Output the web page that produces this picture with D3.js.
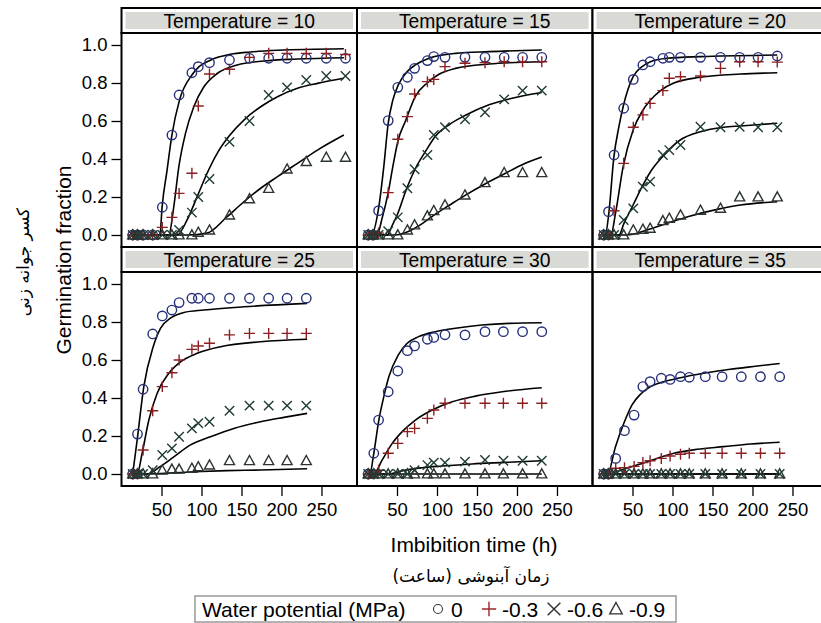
<!DOCTYPE html>
<html><head><meta charset="utf-8">
<script src="https://cdn.jsdelivr.net/npm/d3@7"></script>
<style>body{margin:0;background:#fff}svg{display:block}</style>
</head><body>
<svg id="c" width="821" height="623"></svg>
<script>
const temperatures = [10, 15, 20, 25, 30, 35];
const potentials = ["0", "-0.3", "-0.6", "-0.9"];
const xTicks = [50, 100, 150, 200, 250];
const yTicks = [0, 0.2, 0.4, 0.6, 0.8, 1.0];

const times = [
  [14,20,27,39,51,63,72,88,96,110,135,160,184,207,231,256,280],
  [14,20,27,39,51,63,72,88,96,110,135,160,184,207,231],
  [14,20,27,39,51,63,72,88,96,110,135,160,184,207,231],
  [14,20,27,39,51,63,72,88,96,110,135,160,184,207,231],
  [14,21,27,39,51,63,72,88,96,110,135,160,183,207,231],
  [14,20,29,40,52,63,72,86,97,110,121,141,162,186,210,234]
];
const obs0 = [
  [0,0,0,0,0.146,0.526,0.737,0.854,0.886,0.907,0.921,0.93,0.93,0.93,0.93,0.93,0.93],
  [0,0,0.128,0.602,0.777,0.83,0.877,0.918,0.939,0.935,0.935,0.935,0.935,0.935,0.935],
  [0,0.123,0.421,0.667,0.819,0.895,0.912,0.93,0.935,0.935,0.935,0.935,0.935,0.935,0.942],
  [0,0.21,0.446,0.737,0.832,0.863,0.902,0.925,0.925,0.925,0.925,0.925,0.925,0.925,0.925],
  [0,0.109,0.284,0.433,0.542,0.649,0.674,0.709,0.719,0.733,0.732,0.749,0.749,0.749,0.749],
  [0,0,0.082,0.228,0.31,0.46,0.486,0.504,0.498,0.512,0.509,0.512,0.512,0.512,0.512,0.512]
];
const obs03 = [
  [0,0,0,0,0.04,0.093,0.219,0.325,0.679,0.847,0.872,0.935,0.956,0.956,0.956,0.956,0.95],
  [0,0,0.01,0.223,0.504,0.623,0.742,0.807,0.819,0.886,0.904,0.907,0.912,0.912,0.912],
  [0,0,0.128,0.377,0.567,0.632,0.693,0.76,0.825,0.833,0.837,0.877,0.912,0.912,0.91],
  [0,0,0.126,0.333,0.46,0.533,0.6,0.656,0.674,0.688,0.732,0.74,0.74,0.74,0.74],
  [0,0,0.02,0.109,0.161,0.223,0.24,0.293,0.337,0.372,0.372,0.372,0.372,0.372,0.372],
  [0,0,0.03,0.033,0.04,0.06,0.07,0.082,0.095,0.104,0.109,0.109,0.109,0.109,0.109,0.109]
];
const obs06 = [
  [0,0,0,0,0,0,0.026,0.118,0.2,0.295,0.49,0.6,0.737,0.777,0.816,0.837,0.837],
  [0,0,0,0.02,0.093,0.246,0.346,0.421,0.526,0.567,0.609,0.646,0.714,0.76,0.76],
  [0,0,0,0.079,0.14,0.254,0.281,0.421,0.447,0.474,0.57,0.567,0.57,0.567,0.567],
  [0,0,0,0.02,0.1,0.135,0.196,0.24,0.267,0.275,0.333,0.36,0.36,0.36,0.36],
  [0,0,0,0,0,0,0.02,0.047,0.06,0.06,0.065,0.074,0.07,0.07,0.07],
  [0,0,0,0,0,0,0,0,0,0,0,0,0,0,0,0]
];
const obs09 = [
  [0,0,0,0,0,0,0,0,0.014,0.026,0.105,0.19,0.245,0.347,0.386,0.409,0.409],
  [0,0,0,0,0,0.026,0.053,0.1,0.128,0.158,0.21,0.275,0.328,0.328,0.328],
  [0,0,0,0,0.026,0.03,0.035,0.075,0.088,0.105,0.13,0.14,0.2,0.2,0.2],
  [0,0,0,0,0.02,0.025,0.025,0.03,0.038,0.047,0.07,0.07,0.07,0.07,0.07],
  [0,0,0,0,0,0,0,0,0,0,0,0,0,0,0],
  [0,0,0,0,0,0,0,0,0,0,0,0,0,0,0,0]
];

// fitted curves as [time, fraction]
const fit0 = [
  [[14,0],[48,0],[50.8,0.149],[57,0.342],[63,0.526],[72.5,0.71],[88,0.842],[97,0.886],[111,0.92],[136,0.951],[161,0.963],[195,0.972],[278,0.98]],
  [[14,0],[18,0],[27.3,0.149],[33.5,0.36],[39,0.588],[44.8,0.71],[51.5,0.789],[62.7,0.86],[73,0.895],[90,0.93],[123,0.956],[165,0.965],[231,0.974]],
  [[14,0],[16,0],[20.4,0.114],[26.7,0.41],[33,0.57],[38.3,0.675],[50.8,0.833],[62,0.886],[72.5,0.912],[93,0.93],[135,0.939],[231,0.947]],
  [[14,0],[19.6,0.18],[27.9,0.46],[39.6,0.67],[48.75,0.767],[61.25,0.82],[78,0.85],[103,0.863],[153,0.88],[232,0.898]],
  [[14,0],[16,0],[21,0.109],[27.3,0.284],[33.5,0.407],[39.8,0.512],[51.5,0.626],[62.7,0.688],[77,0.723],[98,0.749],[123,0.767],[156,0.784],[190,0.793],[231,0.796]],
  [[14,0],[18.75,0],[28.75,0.144],[39.2,0.267],[49.6,0.365],[60,0.42],[72.5,0.46],[89,0.486],[110,0.507],[139,0.53],[172,0.551],[206,0.568],[234,0.582]]
];
const fit03 = [
  [[14,0],[59,0],[65.4,0.15],[71.7,0.36],[80,0.535],[90.4,0.675],[103,0.78],[119.6,0.85],[144.6,0.895],[178,0.916],[219.6,0.926],[278,0.933]],
  [[14,0],[25,0],[31.5,0.09],[39,0.223],[44.8,0.36],[51.5,0.5],[60.6,0.6],[73,0.73],[87.7,0.8],[102,0.845],[123,0.877],[165,0.9],[231,0.912]],
  [[14,0],[23,0],[28.75,0.114],[38.3,0.36],[50.8,0.553],[62,0.65],[72.5,0.71],[85.8,0.763],[101.7,0.8],[135,0.83],[185,0.847],[231,0.854]],
  [[14,0],[19.6,0],[25.8,0.109],[34.2,0.284],[44.6,0.425],[59.2,0.53],[73.75,0.59],[94.6,0.635],[123.75,0.67],[173.75,0.696],[232,0.709]],
  [[14,0],[21,0],[31.5,0.074],[44,0.161],[56.5,0.223],[73,0.284],[94,0.337],[119,0.38],[148,0.41],[181.5,0.433],[231,0.454]],
  [[14,0],[18.75,0],[39.2,0.025],[60,0.053],[80.8,0.082],[101.7,0.109],[130.8,0.13],[164,0.144],[197.5,0.158],[234,0.167]]
];
const fit06 = [
  [[14,0],[69.6,0],[82,0.079],[94.6,0.202],[107,0.325],[119.6,0.43],[134,0.518],[153,0.605],[174,0.675],[195,0.728],[220,0.772],[245,0.798],[278,0.825]],
  [[14,0],[37.7,0],[44,0.05],[50.2,0.105],[60.6,0.228],[73,0.35],[85.6,0.44],[98,0.52],[115,0.58],[135.6,0.63],[165,0.685],[194,0.72],[231,0.75]],
  [[14,0],[33,0],[39.2,0.06],[50.8,0.158],[62,0.254],[72.5,0.333],[87,0.41],[109.6,0.5],[135,0.544],[164,0.567],[185,0.574],[231,0.588]],
  [[14,0],[32,0],[48.75,0.04],[65.4,0.09],[86.25,0.153],[111.25,0.196],[140.4,0.24],[173.75,0.275],[203,0.298],[232,0.319]],
  [[14,0],[39.8,0],[60.6,0.021],[81.5,0.033],[106.5,0.042],[144,0.053],[185.6,0.061],[231,0.07]],
  [[14,0],[234,0]]
];
const fit09 = [
  [[14,0],[82,0],[107,0.01],[132,0.096],[153,0.175],[174,0.246],[195,0.307],[220,0.377],[245,0.447],[278,0.526]],
  [[14,0],[47.5,0],[64.8,0.02],[81.5,0.06],[98,0.11],[114.8,0.155],[135.6,0.21],[160.6,0.27],[185.6,0.325],[206.5,0.37],[231,0.41]],
  [[14,0],[43,0],[68,0.026],[93,0.061],[122.5,0.1],[156,0.135],[185,0.158],[231,0.175]],
  [[14,0],[28,0],[90,0.012],[132,0.018],[174,0.021],[232,0.028]],
  [[14,0],[231,0]],
  [[14,0],[234,0]]
];

const obsAll = [obs0, obs03, obs06, obs09];
const fitAll = [fit0, fit03, fit06, fit09];
const colors = ["#25307a", "#8c1f22", "#1f3b35", "#2c3530"];
const symbolPaths = [
  "M4.7,0A4.7,4.7 0 1,1 -4.7,0A4.7,4.7 0 1,1 4.7,0Z",
  "M-5.5,0H5.5M0,-5.5V5.5",
  "M-4.7,-4.7L4.7,4.7M-4.7,4.7L4.7,-4.7",
  "M0,-5.2L5,3.9H-5Z"
];
const FONT = "'Liberation Sans', Arial, sans-serif";

const svg = d3.select("#c");
const W = 235.5, colX = [121.5, 357, 592.5], rowTop = [8, 247], stripH = 25, plotH = 214;

temperatures.forEach((temp, i) => {
  const col = i % 3, row = Math.floor(i / 3);
  const x0 = colX[col];
  const top = rowTop[row];
  const plotTop = top + stripH;
  const x = d3.scaleLinear().domain([0, 294.4]).range([x0, x0 + W]);
  const y = d3.scaleLinear().domain([0, 1]).range([plotTop + 202, plotTop + 12]);
  const g = svg.append("g");

  g.append("rect").attr("x", x0).attr("y", top).attr("width", W).attr("height", stripH)
    .attr("fill", "#fff").attr("stroke", "#000").attr("stroke-width", 2);
  g.append("rect").attr("x", x0 + 4).attr("y", top + 4).attr("width", W - 8).attr("height", stripH - 8)
    .attr("fill", "#d9dad5");
  g.append("text").attr("x", x0 + W / 2).attr("y", top + 19.5).attr("text-anchor", "middle")
    .attr("font-family", FONT).attr("font-size", 19.3).attr("fill", "#000")
    .text("Temperature = " + temp);

  g.append("rect").attr("x", x0).attr("y", plotTop).attr("width", W).attr("height", plotH)
    .attr("fill", "none").attr("stroke", "#000").attr("stroke-width", 2);

  const line = d3.line().x(d => x(d[0])).y(d => y(d[1])).curve(d3.curveMonotoneX);
  fitAll.forEach((fit) => {
    g.append("path").attr("d", line(fit[i])).attr("fill", "none")
      .attr("stroke", "#000").attr("stroke-width", 1.6);
  });
  obsAll.forEach((obs, s) => {
    const pts = times[i].map((t, k) => [t, obs[i][k]]);
    g.selectAll(null).data(pts).enter().append("path")
      .attr("transform", d => `translate(${x(d[0])},${y(d[1])})`)
      .attr("d", symbolPaths[s]).attr("fill", "none")
      .attr("stroke", colors[s]).attr("stroke-width", 1.4);
  });

  if (col === 0) {
    const ax = g.append("g").attr("transform", `translate(${x0},0)`)
      .call(d3.axisLeft(y).tickValues(yTicks).tickFormat(d3.format(".1f")).tickSize(10).tickPadding(4));
    ax.select(".domain").remove();
    ax.selectAll("line").attr("stroke", "#000").attr("stroke-width", 1.3);
    ax.selectAll("text").attr("font-family", FONT).attr("font-size", 18.5).attr("fill", "#000");
  }
  if (row === 1) {
    const ax = g.append("g").attr("transform", `translate(0,${plotTop + plotH})`)
      .call(d3.axisBottom(x).tickValues(xTicks).tickSize(10).tickPadding(7));
    ax.select(".domain").remove();
    ax.selectAll("line").attr("stroke", "#000").attr("stroke-width", 1.3);
    ax.selectAll("text").attr("font-family", FONT).attr("font-size", 18.5).attr("fill", "#000");
  }
});

svg.append("text").attr("x", 474).attr("y", 552).attr("text-anchor", "middle")
  .attr("font-family", FONT).attr("font-size", 21).text("Imbibition time (h)");
svg.append("text").attr("x", 471).attr("y", 582).attr("text-anchor", "middle")
  .attr("font-family", "'DejaVu Sans', sans-serif").attr("font-size", 17).attr("direction", "rtl")
  .text("زمان آبنوشی (ساعت)");
svg.append("text").attr("transform", "translate(71,260) rotate(-90)").attr("text-anchor", "middle")
  .attr("font-family", FONT).attr("font-size", 21).text("Germination fraction");
svg.append("text").attr("transform", "translate(29,262) rotate(-90)").attr("text-anchor", "middle")
  .attr("font-family", "'DejaVu Sans', sans-serif").attr("font-size", 17).attr("direction", "rtl")
  .text("کسر جوانه زنی");

const lg = svg.append("g");
lg.append("rect").attr("x", 195).attr("y", 596).attr("width", 481).attr("height", 26)
  .attr("fill", "#fff").attr("stroke", "#999").attr("stroke-width", 1.5);
lg.append("text").attr("x", 202).attr("y", 617).attr("font-family", FONT).attr("font-size", 21)
  .text("Water potential (MPa)");
const legX = [438, 489, 554, 616];
const legScale = [0.95, 1.3, 1.35, 1.25];
potentials.forEach((p, s) => {
  lg.append("path").attr("transform", `translate(${legX[s]},609) scale(${legScale[s]})`).attr("d", symbolPaths[s])
    .attr("fill", "none").attr("stroke", s === 1 ? "#9a2a2a" : "#333").attr("stroke-width", 1.1);
  lg.append("text").attr("x", legX[s] + 13).attr("y", 617).attr("font-family", FONT)
    .attr("font-size", 21).text(p);
});
</script>
</body></html>
